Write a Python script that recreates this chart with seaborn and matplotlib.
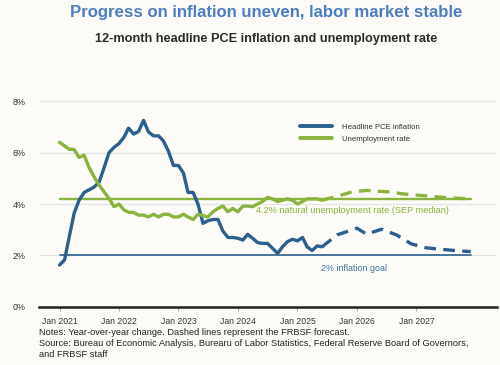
import pandas as pd
import matplotlib.pyplot as plt
import matplotlib.dates as mdates
import seaborn as sns

# monthly actuals, Jan 2021 - Jun 2025
pce_actual = [1.63, 1.83, 2.7, 3.65, 4.15, 4.45, 4.55, 4.66, 4.85, 5.4, 6.0, 6.2,
              6.35, 6.6, 6.95, 6.72, 6.82, 7.25, 6.8, 6.65, 6.65, 6.45, 6.05, 5.5,
              5.5, 5.2, 4.45, 4.45, 4.0, 3.25, 3.35, 3.4, 3.4, 2.95, 2.7, 2.7,
              2.67, 2.6, 2.82, 2.67, 2.5, 2.47, 2.47, 2.28, 2.08, 2.34, 2.54, 2.63,
              2.57, 2.7, 2.34, 2.19, 2.37, 2.34]
unemp_actual = [6.4, 6.26, 6.13, 6.12, 5.81, 5.9, 5.42, 5.06, 4.74, 4.48, 4.22, 3.9,
                4.0, 3.77, 3.68, 3.67, 3.57, 3.57, 3.5, 3.6, 3.5, 3.6, 3.6, 3.5,
                3.5, 3.6, 3.5, 3.4, 3.6, 3.55, 3.5, 3.7, 3.83, 3.92, 3.7, 3.83,
                3.7, 3.92, 3.92, 3.9, 4.0, 4.1, 4.26, 4.2, 4.1, 4.15, 4.2, 4.15,
                4.0, 4.1, 4.2, 4.2, 4.2, 4.15]
actual_dates = pd.date_range('2021-01-01', periods=len(pce_actual), freq='MS')

# FRBSF forecast
pce_fc_dates = ['2025-06', '2025-09', '2026-01', '2026-03', '2026-06', '2026-09',
                '2026-12', '2027-03', '2027-06', '2027-09', '2027-12']
pce_fc = [2.34, 2.8, 3.06, 2.83, 3.02, 2.8, 2.45, 2.3, 2.24, 2.19, 2.15]
unemp_fc_dates = ['2025-06', '2025-09', '2025-12', '2026-03', '2026-05', '2026-08',
                  '2026-10', '2027-01', '2027-04', '2027-07', '2027-10', '2027-12']
unemp_fc = [4.15, 4.3, 4.47, 4.53, 4.5, 4.47, 4.4, 4.35, 4.3, 4.25, 4.22, 4.2]

nairu = 4.2
goal = 2.0
tick_years = [2021, 2022, 2023, 2024, 2025, 2026, 2027]

blue = '#2c5f8e'
green = '#8ab33f'
bg = '#fcfbf7'

sns.set_theme(style='white')
plt.rcParams['font.family'] = ['Liberation Sans', 'DejaVu Sans']

df_act = pd.DataFrame({'date': actual_dates, 'pce': pce_actual, 'unemp': unemp_actual})
df_pce_fc = pd.DataFrame({'date': pd.to_datetime(pce_fc_dates), 'pce': pce_fc})
df_un_fc = pd.DataFrame({'date': pd.to_datetime(unemp_fc_dates), 'unemp': unemp_fc})
span = [df_act['date'].iloc[0], df_un_fc['date'].iloc[-1]]
df_ref = pd.DataFrame({'date': span, 'nairu': [nairu, nairu], 'goal': [goal, goal]})

fig = plt.figure(figsize=(5, 3.65), dpi=100, facecolor=bg)
ax = fig.add_axes([0.078, 0.159, 0.916, 0.564], facecolor=bg)

for y in [2, 4, 6, 8]:
    ax.axhline(y, color='#e4e4e4', lw=0.9, zorder=0)

sns.lineplot(data=df_ref, x='date', y='nairu', color=green, lw=1.7, ax=ax)
sns.lineplot(data=df_ref, x='date', y='goal', color=blue, lw=1.2, ax=ax)
sns.lineplot(data=df_act, x='date', y='pce', color=blue, lw=2.4, ax=ax,
             label='Headline PCE inflation')
sns.lineplot(data=df_act, x='date', y='unemp', color=green, lw=2.4, ax=ax,
             label='Unemployment rate')
sns.lineplot(data=df_pce_fc, x='date', y='pce', color=blue, lw=2.4, ax=ax,
             linestyle=(0, (3.5, 2.2)))
sns.lineplot(data=df_un_fc, x='date', y='unemp', color=green, lw=2.4, ax=ax,
             linestyle=(0, (3.5, 2.2)))

ax.set_xlim(pd.Timestamp('2020-08-28'), pd.Timestamp('2028-05-10'))
ax.set_ylim(0, 8)
ax.set_yticks([0, 2, 4, 6, 8])
ax.set_yticklabels(['0%', '2%', '4%', '6%', '8%'])
ax.set_xticks([pd.Timestamp(f'{yr}-01-01') for yr in tick_years])
ax.xaxis.set_major_formatter(mdates.DateFormatter('Jan %Y'))
ax.tick_params(axis='x', length=3, width=0.8, color='#aaaaaa', labelsize=6.2,
               labelcolor='#333333', pad=4, bottom=True)
ax.tick_params(axis='y', length=0, labelsize=6.4, labelcolor='#333333', pad=19)
for lab in ax.get_yticklabels():
    lab.set_horizontalalignment('left')
ax.set_xlabel('')
ax.set_ylabel('')
for s in ['top', 'right', 'left']:
    ax.spines[s].set_visible(False)
ax.spines['bottom'].set_color('#222222')
ax.spines['bottom'].set_linewidth(1.8)
ax.spines['bottom'].set_zorder(5)

ax.text(pd.Timestamp('2024-04-20'), 3.75, '4.2% natural unemployment rate (SEP median)',
        color=green, fontsize=6.6, va='center', ha='left')
ax.text(pd.Timestamp('2025-05-25'), 1.5, '2% inflation goal', color='#3f6f9f',
        fontsize=6.4, va='center', ha='left')

leg = ax.legend(loc='upper left', bbox_to_anchor=(0.555, 0.925), frameon=False,
                fontsize=5.6, handlelength=4.1, handletextpad=1.3, labelspacing=0.55)
for line in leg.get_lines():
    line.set_linewidth(2.8)
for t in leg.get_texts():
    t.set_color('#333333')

fig.text(0.532, 0.965, 'Progress on inflation uneven, labor market stable', color='#4a7fc1',
         fontsize=12.1, fontweight='bold', ha='center', va='center')
fig.text(0.533, 0.893, '12-month headline PCE inflation and unemployment rate', color='#2a2a2a',
         fontsize=9.2, fontweight='bold', ha='center', va='center')
fig.text(0.078, 0.102, 'Notes: Year-over-year change. Dashed lines represent the FRBSF forecast.\n'
         'Source: Bureau of Economic Analysis, Burearu of Labor Statistics, Federal Reserve Board of Governors,\n'
         'and FRBSF staff', color='#222222', fontsize=6.7, ha='left', va='top', linespacing=1.3)

fig.savefig('out.png', dpi=100, facecolor=bg)
